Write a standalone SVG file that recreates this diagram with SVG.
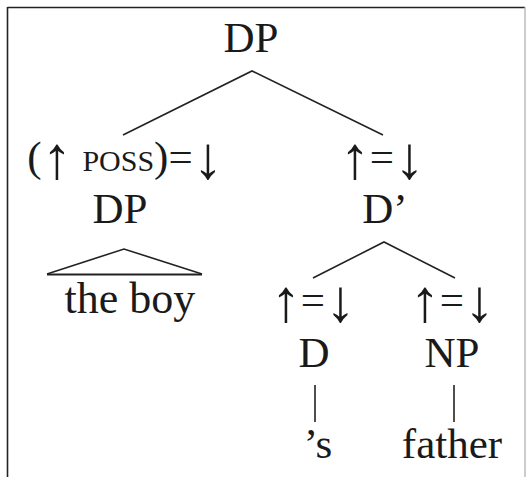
<svg xmlns="http://www.w3.org/2000/svg" width="526" height="477" viewBox="0 0 526 477">
<style>
text{font-family:"Liberation Serif","Times New Roman",serif;font-size:43px;fill:#1a1a1a;text-anchor:middle}
.e{stroke:#222;stroke-width:1.6;fill:none}
.sc{font-size:30px}
.ar{font-size:60px}
</style>
<rect x="0" y="0" width="526" height="477" fill="#fff"/>
<line x1="7.5" y1="7.5" x2="525" y2="7.5" stroke="#222" stroke-width="1.6"/>
<line x1="7.5" y1="7" x2="7.5" y2="477" stroke="#222" stroke-width="1.6"/>
<line x1="525" y1="7" x2="525" y2="477" stroke="#aaa" stroke-width="1.2"/>
<g id="connectors">
<polyline class="e" points="123,135 252,71 383,135"/>
<polyline class="e" points="313,278 384,242 455,278"/>
<path class="e" d="M47,274 L124,249 L202,274"/>
<line x1="47" y1="274.5" x2="202" y2="274.5" stroke="#222" stroke-width="2.2"/>
<line class="e" x1="315" y1="385" x2="315" y2="422"/>
<line class="e" x1="454" y1="385" x2="454" y2="422"/>
</g>
<g id="dp-root"><text x="251" y="52">DP</text></g>
<g id="dp-poss"><text x="125" y="171">(<tspan class="ar" dy="7">↑</tspan><tspan dy="-7"> </tspan><tspan class="sc">POSS</tspan>)=<tspan class="ar" dy="7">↓</tspan></text><text x="120" y="223">DP</text></g>
<g id="the-boy"><text x="130" y="313" style="font-size:44px">the boy</text></g>
<g id="dbar"><text x="382" y="171"><tspan class="ar" dy="7">↑</tspan><tspan dy="-7">=</tspan><tspan class="ar" dy="7">↓</tspan></text><text x="385" y="223">D’</text></g>
<g id="d"><text x="313" y="314"><tspan class="ar" dy="7">↑</tspan><tspan dy="-7">=</tspan><tspan class="ar" dy="7">↓</tspan></text><text x="314" y="367">D</text></g>
<g id="np"><text x="452" y="314"><tspan class="ar" dy="7">↑</tspan><tspan dy="-7">=</tspan><tspan class="ar" dy="7">↓</tspan></text><text x="452" y="367">NP</text></g>
<g id="s"><text x="318" y="458">’s</text></g>
<g id="father"><text x="452" y="458">father</text></g>
</svg>
